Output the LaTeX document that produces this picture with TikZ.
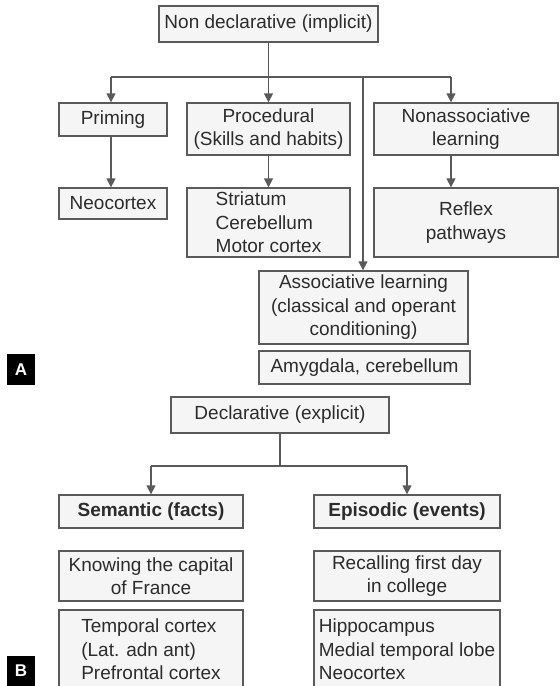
\documentclass[tikz,border=0pt]{standalone}
\usepackage{fontspec}
\setmainfont{Liberation Sans}
\usetikzlibrary{arrows.meta}
\definecolor{txt}{HTML}{2C2C2C}
\definecolor{bord}{HTML}{5A5A5A}
\definecolor{boxfill}{HTML}{F5F5F5}
\tikzset{
  box/.style={draw=bord, line width=1.3pt, fill=boxfill, text=txt, inner sep=0pt,
    font=\fontsize{19}{23.5}\selectfont, align=center},
  lbox/.style={box, align=left},
  conn/.style={draw=bord, line width=1.3pt},
  arr/.style={conn, -{Triangle[width=9pt,length=9pt]}},
  tag/.style={fill=black, text=white, inner sep=0pt, minimum width=28pt, minimum height=31pt,
    font=\fontsize{17}{17}\selectfont\bfseries}
}
\begin{document}
\begin{tikzpicture}[x=1pt,y=-1pt]
\clip (0,0) rectangle (560,686);
\fill[white] (0,0) rectangle (560,686);
% Part A
\node[box, minimum width=219pt, minimum height=36pt] (nd) at (268.5,24) {Non declarative (implicit)};
\node[box, minimum width=108pt, minimum height=33pt] (prim) at (113,119.5) {Priming};
\node[box, minimum width=163pt, minimum height=52pt] (proc) at (268.5,129) {Procedural\\(Skills and habits)};
\node[box, minimum width=184pt, minimum height=52pt] (nonas) at (466,129) {Nonassociative\\learning};
\node[box, minimum width=108pt, minimum height=31pt] (neo) at (113,203.5) {Neocortex};
\node[lbox, minimum width=163pt, minimum height=69pt] (stri) at (268.5,222.5) {Striatum\\Cerebellum\\Motor cortex};
\node[box, minimum width=184pt, minimum height=69pt] (refl) at (466,222.5) {Reflex\\pathways};
\node[box, minimum width=209pt, minimum height=73pt] (assoc) at (363.5,307.5) {Associative learning\\(classical and operant\\conditioning)};
\node[box, minimum width=211pt, minimum height=33pt] (amyg) at (364.5,367.5) {Amygdala, cerebellum};
\node[tag] (tagA) at (21,369.5) {A};
% connectors A
\coordinate (ja) at (268.5,77);
\coordinate (jl) at (111,77);
\coordinate (jr) at (451,77);
\coordinate (jm) at (363,77);
\draw[conn] (nd.south) -- (ja);
\draw[conn] (jl) -- (jr);
\draw[arr] (jl) -- (jl |- prim.north);
\draw[arr] (ja) -- (proc.north);
\draw[arr] (jr) -- (jr |- nonas.north);
\draw[arr] (jm) -- (jm |- assoc.north);
\draw[arr] (jl |- prim.south) -- (jl |- neo.north);
\draw[arr] (proc.south) -- (stri.north);
\draw[arr] (jr |- nonas.south) -- (jr |- refl.north);
% Part B
\node[box, minimum width=218pt, minimum height=36pt] (decl) at (280,415) {Declarative (explicit)};
\node[box, minimum width=184pt, minimum height=33pt, font=\fontsize{19}{23.5}\selectfont\bfseries] (sem) at (151,511.5) {Semantic (facts)};
\node[box, minimum width=186pt, minimum height=33pt, font=\fontsize{19}{23.5}\selectfont\bfseries] (epi) at (407,511.5) {Episodic (events)};
\node[box, minimum width=184pt, minimum height=50pt] (know) at (151,576) {Knowing the capital\\of France};
\node[box, minimum width=186pt, minimum height=50pt] (recall) at (407,576) {Recalling first day\\in college};
\node[lbox, minimum width=184pt, minimum height=79pt] (temp) at (151,649.5) {Temporal cortex\\(Lat. adn ant)\\Prefrontal cortex};
\node[lbox, minimum width=186pt, minimum height=79pt] (hippo) at (407,649.5) {Hippocampus\\Medial temporal lobe\\Neocortex};
\node[tag, minimum height=30pt] (tagB) at (21,671) {B};
% connectors B
\coordinate (jb) at (280,466);
\draw[conn] (decl.south) -- (jb);
\draw[conn] (jb -| sem.north) -- (jb -| epi.north);
\draw[arr] (jb -| sem.north) -- (sem.north);
\draw[arr] (jb -| epi.north) -- (epi.north);
\end{tikzpicture}
\end{document}
